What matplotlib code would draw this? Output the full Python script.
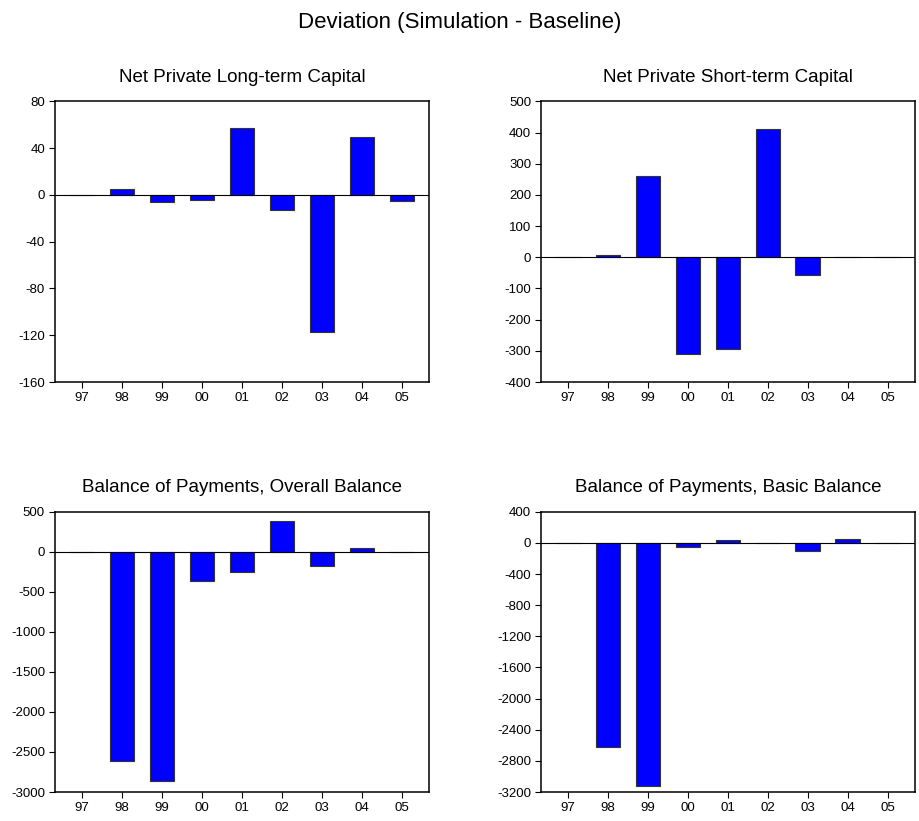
import matplotlib
matplotlib.use("Agg")
import matplotlib.pyplot as plt
import numpy as np

plt.rcParams['font.family'] = ['Liberation Sans', 'DejaVu Sans']
plt.rcParams['axes.unicode_minus'] = False

years = ["97", "98", "99", "00", "01", "02", "03", "04", "05"]

long_term = [0, 5, -6, -4, 57, -13, -117, 50, -5]
short_term = [0, 6, 262, -310, -294, 411, -58, 0, 0]
overall = [0, -2615, -2864, -362, -249, 382, -175, 41, 0]
basic = [0, -2622, -3127, -51, 31, 0, -103, 44, 0]

panels = [
    ("Net Private Long-term Capital", long_term, (-160, 80), np.arange(-160, 81, 40)),
    ("Net Private Short-term Capital", short_term, (-400, 500), np.arange(-400, 501, 100)),
    ("Balance of Payments, Overall Balance", overall, (-3000, 500), np.arange(-3000, 501, 500)),
    ("Balance of Payments, Basic Balance", basic, (-3200, 400), np.arange(-3200, 401, 400)),
]

# axes boxes [left, bottom, width, height]
boxes = [
    [0.0595, 0.5347, 0.4070, 0.3417],
    [0.5880, 0.5347, 0.4065, 0.3417],
    [0.0595, 0.0353, 0.4070, 0.3414],
    [0.5880, 0.0353, 0.4065, 0.3414],
]

fig = plt.figure(figsize=(9.2, 8.21), dpi=100)
fig.suptitle("Deviation (Simulation - Baseline)", fontsize=16, y=0.985)

x = np.arange(len(years))
for (title, vals, ylim, yt), box in zip(panels, boxes):
    ax = fig.add_axes(box)
    ax.bar(x, vals, width=0.62, color="#0000FF", edgecolor="#333333", linewidth=0.8, zorder=2)
    ax.axhline(0, color="black", linewidth=0.8, zorder=3)
    ax.set_xlim(-0.68, 8.68)
    ax.set_ylim(*ylim)
    ax.set_yticks(yt)
    ax.set_xticks(x)
    ax.set_xticklabels(years)
    ax.tick_params(direction="out", length=4, width=0.8, labelsize=9.5, pad=3)
    for s in ax.spines.values():
        s.set_linewidth(1.1)
    ax.set_title(title, fontsize=13.5, pad=14)

fig.savefig("out.png", dpi=100)
